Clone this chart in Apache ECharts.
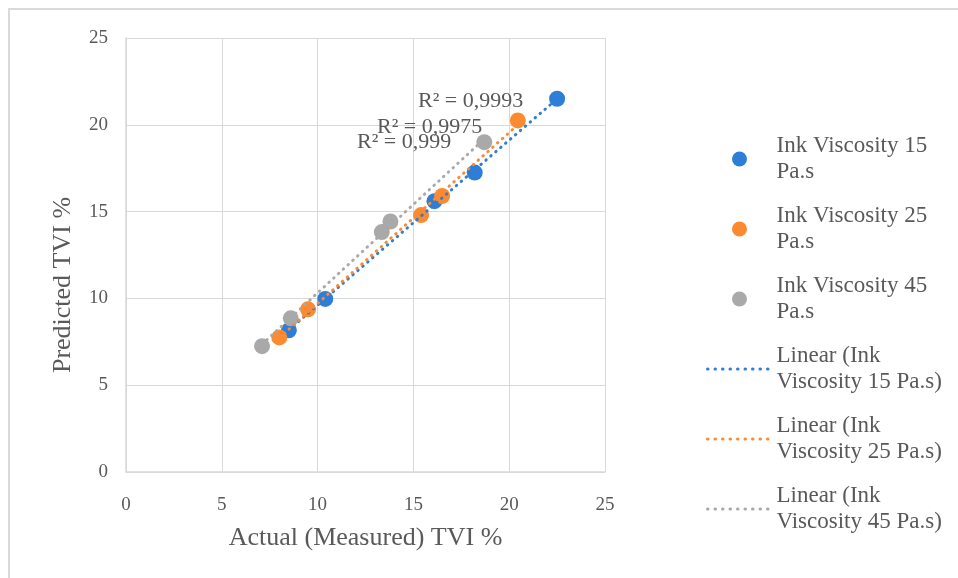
<!DOCTYPE html>
<html>
<head>
<meta charset="utf-8">
<script src="https://cdn.jsdelivr.net/npm/echarts@6/dist/echarts.min.js"></script>
<style>html,body{margin:0;padding:0;background:#fff}#c{width:958px;height:578px}</style>
</head>
<body>
<div id="c"></div>
<script>
var seriesNames = ['Ink Viscosity 15 Pa.s', 'Ink Viscosity 25 Pa.s', 'Ink Viscosity 45 Pa.s'];
var x15 = [22.5, 18.2, 16.1, 10.4, 8.5];
var y15 = [21.5, 17.25, 15.6, 9.97, 8.16];
var x25 = [20.45, 16.5, 15.4, 9.5, 8.0];
var y25 = [20.25, 15.9, 14.8, 9.37, 7.75];
var x45 = [18.7, 13.8, 13.35, 8.6, 7.1];
var y45 = [19.0, 14.43, 13.82, 8.85, 7.25];
var r2Labels = ['R² = 0,9993', 'R² = 0,9975', 'R² = 0,999'];
var axisTicks = [0, 5, 10, 15, 20, 25];
var colors = ['#2e7dd7', '#fb8a30', '#a9a9a9'];

var xs = [x15, x25, x45], ys = [y15, y25, y45];
function pairs(x, y) { return x.map(function (v, i) { return [v, y[i]]; }); }
function fit(x, y) {
  var n = x.length, sx = 0, sy = 0, sxx = 0, sxy = 0;
  for (var i = 0; i < n; i++) { sx += x[i]; sy += y[i]; sxx += x[i] * x[i]; sxy += x[i] * y[i]; }
  var b = (n * sxy - sx * sy) / (n * sxx - sx * sx);
  var a = (sy - b * sx) / n;
  var lo = Math.min.apply(null, x), hi = Math.max.apply(null, x);
  return [[lo, a + b * lo], [hi, a + b * hi]];
}
var font = '"Liberation Serif", "Times New Roman", serif';
var txt = '#595959';
var dotStyle = function (c, gap) { return { color: c, width: 3, type: [0.5, gap], cap: 'round' }; };
var series = [];
for (var k = 0; k < 3; k++) {
  series.push({
    name: seriesNames[k], type: 'scatter', data: pairs(xs[k], ys[k]),
    symbolSize: 16, itemStyle: { color: colors[k], opacity: 1 }, z: 3
  });
}
for (var k = 0; k < 3; k++) {
  series.push({
    name: 'Linear (' + seriesNames[k] + ')', type: 'line', data: fit(xs[k], ys[k]),
    symbol: 'none', silent: true, z: 4,
    lineStyle: dotStyle(colors[k], 6),
    itemStyle: { color: colors[k] }
  });
}
var chart = echarts.init(document.getElementById('c'));
chart.setOption({
  animation: false,
  color: colors,
  textStyle: { fontFamily: font },
  grid: { left: 126, top: 38, right: 353, bottom: 106 },
  xAxis: {
    type: 'value', min: 0, max: 25, interval: 5,
    name: 'Actual (Measured) TVI %', nameLocation: 'middle', nameGap: 53,
    nameTextStyle: { fontFamily: font, fontSize: 26, color: txt },
    axisLine: { lineStyle: { color: '#d9d9d9', width: 1.5 } },
    axisTick: { show: false },
    axisLabel: { fontFamily: font, fontSize: 19, color: txt, margin: 24,
      formatter: function (v) { return axisTicks.indexOf(v) >= 0 ? String(v) : ''; } },
    splitLine: { lineStyle: { color: '#d9d9d9', width: 1 } }
  },
  yAxis: {
    type: 'value', min: 0, max: 25, interval: 5,
    name: 'Predicted TVI %', nameLocation: 'middle', nameGap: 50,
    nameTextStyle: { fontFamily: font, fontSize: 26, color: txt, padding: [0, 60, 0, 0] },
    axisLine: { show: true, lineStyle: { color: '#d9d9d9', width: 1.5 } },
    axisTick: { show: false },
    axisLabel: { fontFamily: font, fontSize: 19, color: txt, margin: 18 },
    splitLine: { lineStyle: { color: '#d9d9d9', width: 1 } }
  },
  legend: {
    orient: 'vertical', left: 701, top: 115,
    itemWidth: 64, itemHeight: 15, itemGap: -8,
    data: series.map(function (s, i) {
      if (s.type === 'scatter') return { name: s.name, icon: 'circle' };
      return { name: s.name, itemStyle: { color: 'rgba(0,0,0,0)', opacity: 0, borderWidth: 0 },
        lineStyle: dotStyle(colors[i - 3], 7) };
    }),
    formatter: function (n) {
      if (n.indexOf('Linear') === 0) return n.replace(/^(Linear \(Ink) /, '$1\n');
      return n.replace(/ (Pa\.s)$/, '\n$1');
    },
    textStyle: { fontFamily: font, fontSize: 23, color: txt, lineHeight: 26, padding: [26, 0, 0, 0] }
  },
  graphic: [
    { type: 'rect', shape: { x: 9, y: 9, width: 960, height: 580 }, style: { fill: 'none', stroke: '#d9d9d9', lineWidth: 2 }, silent: true },
    { type: 'text', left: 418, top: 90, style: { text: r2Labels[0], font: '22px ' + font, fill: txt }, z: 10 },
    { type: 'text', left: 377, top: 116, style: { text: r2Labels[1], font: '22px ' + font, fill: txt }, z: 10 },
    { type: 'text', left: 357, top: 131, style: { text: r2Labels[2], font: '22px ' + font, fill: txt }, z: 10 }
  ],
  series: series
});
</script>
</body>
</html>
